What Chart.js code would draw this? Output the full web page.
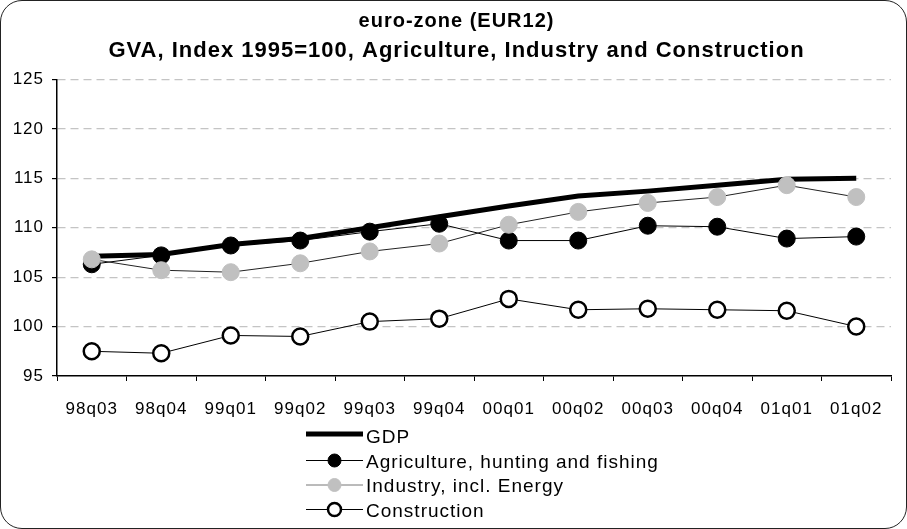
<!DOCTYPE html>
<html>
<head>
<meta charset="utf-8">
<script src="https://cdn.jsdelivr.net/npm/chart.js@4"></script>
<style>
  html, body { margin: 0; padding: 0; background: #fff; }
  .wrap { position: relative; width: 907px; height: 529px; }
  .frame {
    position: absolute; left: 0; top: 0; width: 907px; height: 529px;
    box-sizing: border-box; border: 1.5px solid #222; border-radius: 22px;
    pointer-events: none;
  }
  canvas { display: block; }
</style>
</head>
<body>
<div class="wrap">
  <canvas id="c" width="907" height="529"></canvas>
  <div class="frame"></div>
</div>
<script>
// quarters on the x axis
const quarters = ['98q03', '98q04', '99q01', '99q02', '99q03', '99q04',
  '00q01', '00q02', '00q03', '00q04', '01q01', '01q02'];

// index 1995=100
const gdp = [107.1, 107.3, 108.3, 108.9, 110.0, 111.1, 112.2, 113.2, 113.7, 114.3, 114.9, 115.0];
const agriculture = [106.3, 107.2, 108.2, 108.7, 109.6, 110.4, 108.7, 108.7, 110.2, 110.1, 108.9, 109.1];
const industry = [106.8, 105.7, 105.5, 106.4, 107.6, 108.4, 110.3, 111.6, 112.5, 113.1, 114.3, 113.1];
const construction = [97.5, 97.3, 99.1, 99.0, 100.5, 100.8, 102.8, 101.7, 101.8, 101.7, 101.6, 100.0];

const yTicks = [95, 100, 105, 110, 115, 120, 125];

const FONT = '"Liberation Sans", Arial, sans-serif';

// the original (Excel export) has slightly wide letter spacing everywhere
const spacing = {
  id: 'spacing',
  beforeUpdate(chart) { chart.ctx.letterSpacing = '1px'; },
  beforeDraw(chart) { chart.ctx.letterSpacing = '1px'; }
};

// legend drawn as a vertical list: line sample with the marker in the middle
const listLegend = {
  id: 'listLegend',
  afterDraw(chart) {
    const ctx = chart.ctx;
    const x0 = 306, x1 = 363, top = 436, step = 24.5;
    ctx.save();
    chart.data.datasets.forEach((ds, i) => {
      const y = top + i * step;
      const ly = y + (ds.legendLineY || 0);
      ctx.beginPath();
      ctx.moveTo(x0, ly);
      ctx.lineTo(x1, ly);
      ctx.lineWidth = ds.borderWidth;
      ctx.strokeStyle = ds.legendLineColor || ds.borderColor;
      ctx.stroke();
      if (ds.pointRadius > 0) {
        ctx.beginPath();
        ctx.arc((x0 + x1) / 2, y, 6.5, 0, Math.PI * 2);
        ctx.fillStyle = ds.pointBackgroundColor;
        ctx.fill();
        ctx.lineWidth = ds.pointBorderWidth;
        ctx.strokeStyle = ds.pointBorderColor;
        ctx.stroke();
      }
      ctx.fillStyle = '#000';
      ctx.font = '19px ' + FONT;
      ctx.letterSpacing = '1px';
      ctx.textBaseline = 'middle';
      ctx.textAlign = 'left';
      ctx.fillText(ds.label, x1 + 3, y + 2);
    });
    ctx.restore();
  }
};

new Chart(document.getElementById('c'), {
  type: 'line',
  data: {
    labels: quarters,
    datasets: [
      {
        label: 'GDP',
        data: gdp,
        borderColor: '#000',
        borderWidth: 5,
        pointRadius: 0,
        legendLineY: -2,
        order: 4
      },
      {
        label: 'Agriculture, hunting and fishing',
        data: agriculture,
        borderColor: '#000',
        borderWidth: 1,
        pointRadius: 8.5,
        pointBackgroundColor: '#000',
        pointBorderColor: '#000',
        pointBorderWidth: 1,
        order: 3
      },
      {
        label: 'Industry, incl. Energy',
        data: industry,
        borderColor: '#222',
        legendLineColor: '#777',
        borderWidth: 1,
        pointRadius: 8.5,
        pointBackgroundColor: '#c0c0c0',
        pointBorderColor: '#c0c0c0',
        pointBorderWidth: 1,
        order: 2
      },
      {
        label: 'Construction',
        data: construction,
        borderColor: '#000',
        borderWidth: 1,
        pointRadius: 8,
        pointBackgroundColor: '#fff',
        pointBorderColor: '#000',
        pointBorderWidth: 2.5,
        order: 1
      }
    ]
  },
  options: {
    responsive: false,
    animation: false,
    layout: { padding: { left: 14, right: 8, top: 4, bottom: 108 } },
    elements: { line: { tension: 0 } },
    plugins: {
      legend: { display: false },
      tooltip: { enabled: false },
      title: {
        display: true,
        text: 'euro-zone (EUR12)',
        color: '#000',
        font: { family: FONT, size: 20, weight: 'bold', lineHeight: 1.2 },
        padding: { top: 5, bottom: 0 }
      },
      subtitle: {
        display: true,
        text: 'GVA, Index 1995=100, Agriculture, Industry and Construction',
        color: '#000',
        font: { family: FONT, size: 22, weight: 'bold', lineHeight: 1.2 },
        padding: { top: 5, bottom: 15 }
      }
    },
    scales: {
      x: {
        offset: true,
        grid: {
          offset: true,
          drawOnChartArea: false,
          drawTicks: true,
          tickLength: 5,
          tickColor: '#000'
        },
        border: { color: '#000', width: 1.5 },
        ticks: {
          color: '#000',
          font: { family: FONT, size: 17 },
          padding: 18,
          maxRotation: 0,
          autoSkip: false
        },
        afterFit: (s) => { s.height = 45; }
      },
      y: {
        min: 95,
        max: 125,
        afterBuildTicks: (s) => { s.ticks = yTicks.map(v => ({ value: v })); },
        grid: {
          color: (c) => (c.tick && c.tick.value === 95 ? 'rgba(0,0,0,0)' : '#c4c4c4'),
          lineWidth: 1.2,
          tickColor: '#000',
          tickLength: 5
        },
        border: { color: '#000', width: 1.5, dash: [8, 5] },
        ticks: {
          color: '#000',
          font: { family: FONT, size: 17 },
          padding: 8
        },
        afterFit: (s) => { s.width = 43; }
      },
      // empty strip on the right, keeps the plot edge where the original has it
      gap: {
        position: 'right',
        min: 95,
        max: 125,
        grid: { display: false },
        border: { display: false },
        ticks: { display: false },
        afterFit: (s) => { s.width = 8; }
      }
    }
  },
  plugins: [spacing, listLegend]
});
</script>
</body>
</html>
